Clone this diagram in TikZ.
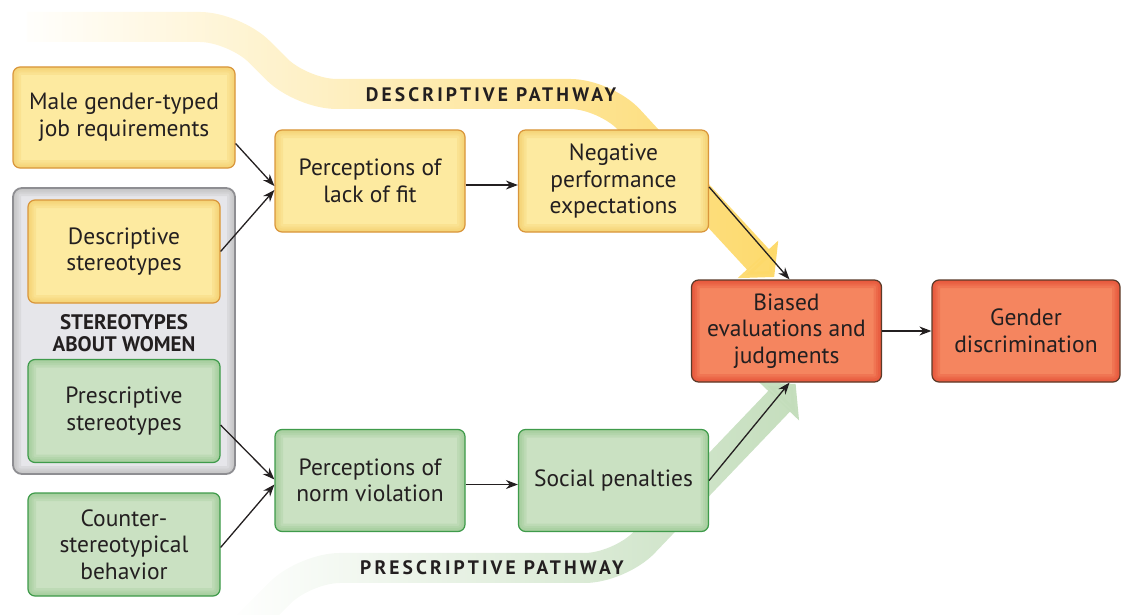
\documentclass[tikz,border=0pt]{standalone}
\usepackage{fontspec}
\setmainfont{PT Sans}
\newfontfamily\pathfont[LetterSpace=16]{PT Sans}
\usetikzlibrary{arrows.meta,fadings}
\definecolor{txt}{HTML}{231F20}
\definecolor{ylwfill}{HTML}{FDEAA0}
\definecolor{ylwdraw}{HTML}{D9963C}
\definecolor{ylwglow}{HTML}{F3C860}
\definecolor{grnfill}{HTML}{CAE1C2}
\definecolor{grndraw}{HTML}{3F9B4B}
\definecolor{grnglow}{HTML}{93C48A}
\definecolor{redfill}{HTML}{F5855F}
\definecolor{reddraw}{HTML}{5A3B2A}
\definecolor{redglow}{HTML}{E2402A}
\definecolor{grayfill}{HTML}{E6E6EA}
\definecolor{graydraw}{HTML}{8E8E92}
\definecolor{bandyellow}{HTML}{FDD96A}
\definecolor{bandgreen}{HTML}{C3DDBB}
\tikzfading[name=bandfade, left color=transparent!100, middle color=transparent!45, right color=transparent!0]
\begin{document}
\begin{tikzpicture}[x=1pt,y=-1pt,
  glow/.style={path picture={
    \foreach \w in {16,11,7,3}
      \draw[#1, opacity=0.22, line width=\w pt, rounded corners=7pt]
        (path picture bounding box.south west) rectangle (path picture bounding box.north east);}},
  box/.style={rectangle, rounded corners=7pt, line width=1.2pt, align=center, inner sep=0pt,
    font=\fontsize{23.5}{26.5}\selectfont, text=txt},
  ybox/.style={box, fill=ylwfill, draw=ylwdraw, glow=ylwglow},
  gbox/.style={box, fill=grnfill, draw=grndraw, glow=grnglow},
  rbox/.style={box, fill=redfill, draw=reddraw, glow=redglow},
  small/.style={minimum width=192pt, minimum height=103pt},
  mid/.style={minimum width=190pt, minimum height=102pt},
  arr/.style={draw=txt, line width=1.3pt, -{Stealth[length=12pt,width=9pt]}},
  band/.style={line width=30pt, rounded corners=35pt, path fading=bandfade, -{Triangle[length=24pt,width=54pt]}},
  pathlbl/.style={font=\pathfont\bfseries\fontsize{19.5}{22}\selectfont, text=txt, inner sep=0pt}
]
\useasboundingbox (0,0) rectangle (1121,615);
\begin{scope}
\clip (0,0) rectangle (1121,615);
\draw[band, draw=bandyellow] (27,27) -- (235,27) -- (302,94) -- (606,94) -- (775,277);
\draw[band, draw=bandgreen] (243,630) -- (305,568) -- (620,568) -- (796,384);
\end{scope}
\node[pathlbl] (dlabel) at (491,95) {DESCRIPTIVE PATHWAY};
\node[pathlbl] (plabel) at (492,568) {PRESCRIPTIVE PATHWAY};

\node[box, fill=grayfill, draw=graydraw, line width=1.8pt, rounded corners=9pt, minimum width=222pt, minimum height=286pt, glow=gray!60] (group) at (124,331) {};
\node[font=\bfseries\fontsize{21}{22.5}\selectfont, text=txt, align=center, inner sep=0pt] (grouplbl) at (124,333) {STEREOTYPES\\ABOUT WOMEN};

\node[ybox, minimum width=222pt, minimum height=101pt] (male) at (124,117.5) {Male gender-typed\\job requirements};
\node[ybox, small] (desc) at (124,251.5) {Descriptive\\stereotypes};
\node[gbox, small] (presc) at (124,411) {Prescriptive\\stereotypes};
\node[gbox, small] (counter) at (124,544.5) {Counter-\\stereotypical\\behavior};
\node[ybox, mid] (fit) at (370,181) {Perceptions of\\lack of fit};
\node[ybox, mid] (neg) at (613.5,181) {Negative\\performance\\expectations};
\node[gbox, mid] (norm) at (370,480.5) {Perceptions of\\norm violation};
\node[gbox, mid] (social) at (613.5,480.5) {Social penalties};
\node[rbox, mid] (biased) at (786.5,331) {Biased\\evaluations and\\judgments};
\node[rbox, minimum width=188pt, minimum height=102pt] (gender) at (1026,331) {Gender\\discrimination};

\draw[arr] ([yshift=-26pt]male.east) -- ([yshift=-5pt]fit.west);
\draw[arr] (desc.east) -- ([yshift=-9pt]fit.west);
\draw[arr] ([yshift=-4pt]fit.east) -- ([yshift=-4pt]neg.west);
\draw[arr] ([yshift=-6pt]neg.east) -- ([xshift=3pt]biased.north);
\draw[arr] ([yshift=-14pt]presc.east) -- ([yshift=1pt]norm.west);
\draw[arr] ([yshift=-3pt]counter.east) -- ([yshift=-4pt]norm.west);
\draw[arr] ([yshift=-4pt]norm.east) -- ([yshift=-4pt]social.west);
\draw[arr] (social.east) -- ([xshift=3pt]biased.south);
\draw[arr] (biased.east) -- (gender.west);
\end{tikzpicture}
\end{document}
